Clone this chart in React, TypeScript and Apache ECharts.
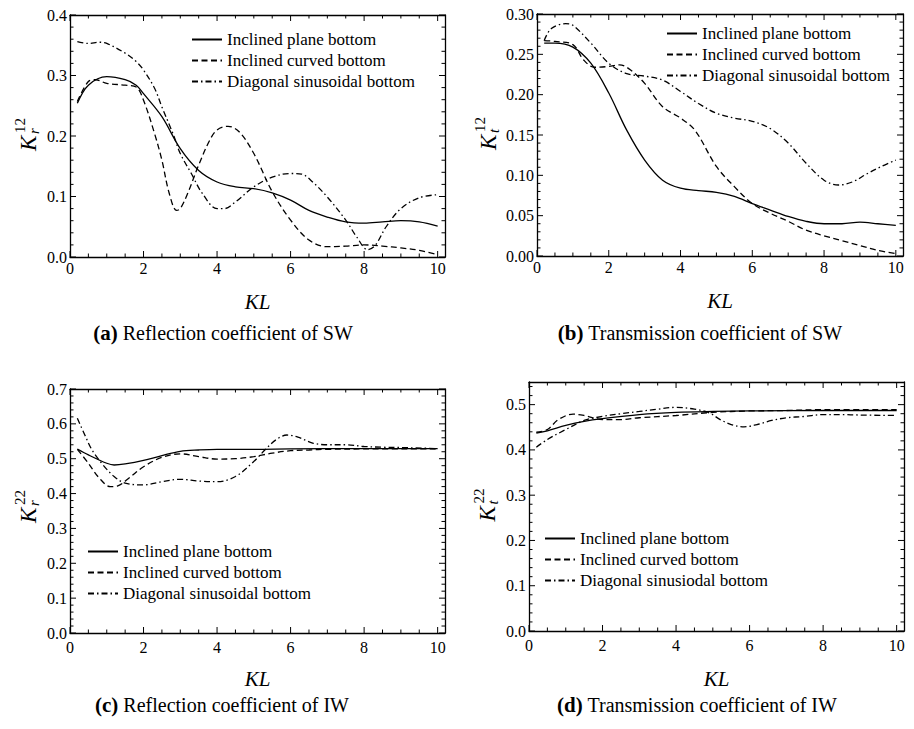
import React, { useEffect, useRef } from "react";
import * as echarts from "echarts";

// ---------- data ----------
const NAME_PLANE = "Inclined plane bottom";
const NAME_CURVED = "Inclined curved bottom";
const NAME_SIN = "Diagonal sinusoidal bottom";
const NAME_SIN_D = "Diagonal sinusiodal bottom";

// (a) Reflection coefficient of SW
const aPlaneX = [0.2, 0.5, 1.0, 1.5, 1.8, 2.0, 2.5, 3.0, 3.5, 4.0, 4.5, 5.0, 5.5, 6.0, 6.5, 7.0, 7.5, 8.0, 8.5, 9.0, 9.5, 10];
const aPlaneY = [0.254, 0.284, 0.298, 0.293, 0.284, 0.27, 0.232, 0.179, 0.143, 0.124, 0.116, 0.113, 0.106, 0.094, 0.077, 0.066, 0.058, 0.056, 0.058, 0.06, 0.058, 0.051];
const aCurvedX = [0.2, 0.5, 0.7, 1.0, 1.5, 1.8, 2.0, 2.3, 2.5, 2.7, 2.9, 3.0, 3.2, 3.5, 3.8, 4.0, 4.3, 4.6, 5.0, 5.5, 6.0, 6.5, 7.0, 7.5, 8.0, 8.5, 9.0, 9.5, 10];
const aCurvedY = [0.257, 0.29, 0.293, 0.287, 0.284, 0.281, 0.259, 0.204, 0.16, 0.105, 0.077, 0.08, 0.105, 0.152, 0.193, 0.21, 0.216, 0.207, 0.171, 0.108, 0.061, 0.028, 0.017, 0.018, 0.02, 0.018, 0.015, 0.011, 0.004];
const aSinX = [0.2, 0.5, 0.8, 1.0, 1.5, 1.8, 2.0, 2.3, 2.5, 2.8, 3.0, 3.3, 3.6, 4.0, 4.2, 4.5, 5.0, 5.5, 6.0, 6.3, 6.6, 7.0, 7.5, 7.8, 8.1, 8.3, 8.6, 9.0, 9.5, 10];
const aSinY = [0.356, 0.353, 0.355, 0.353, 0.337, 0.323, 0.309, 0.279, 0.248, 0.204, 0.171, 0.138, 0.105, 0.08, 0.08, 0.091, 0.116, 0.132, 0.138, 0.137, 0.124, 0.099, 0.061, 0.033, 0.012, 0.019, 0.05, 0.08, 0.098, 0.103];

// (b) Transmission coefficient of SW
const bPlaneX = [0.2, 0.5, 1.0, 1.5, 2.0, 2.5, 3.0, 3.5, 4.0, 4.5, 5.0, 5.5, 6.0, 6.5, 7.0, 7.5, 8.0, 8.5, 9.0, 9.5, 10];
const bPlaneY = [0.264, 0.264, 0.259, 0.239, 0.202, 0.156, 0.119, 0.094, 0.084, 0.081, 0.079, 0.074, 0.065, 0.057, 0.049, 0.043, 0.04, 0.04, 0.042, 0.04, 0.038];
const bCurvedX = [0.2, 0.5, 1.0, 1.3, 1.6, 2.0, 2.3, 2.6, 3.0, 3.5, 4.0, 4.4, 5.0, 5.5, 6.0, 6.5, 7.0, 7.5, 8.0, 8.5, 9.0, 9.5, 10];
const bCurvedY = [0.267, 0.266, 0.262, 0.243, 0.234, 0.235, 0.237, 0.231, 0.214, 0.185, 0.171, 0.156, 0.111, 0.086, 0.065, 0.053, 0.043, 0.032, 0.025, 0.019, 0.013, 0.007, 0.003];
const bSinX = [0.2, 0.4, 0.8, 1.0, 1.5, 2.0, 2.5, 3.0, 3.5, 4.0, 4.5, 5.0, 5.5, 6.0, 6.5, 7.0, 7.5, 8.0, 8.4, 8.8, 9.2, 9.6, 10];
const bSinY = [0.267, 0.282, 0.288, 0.286, 0.264, 0.239, 0.226, 0.223, 0.218, 0.204, 0.189, 0.177, 0.171, 0.167, 0.158, 0.14, 0.115, 0.094, 0.088, 0.092, 0.102, 0.111, 0.119];

// (c) Reflection coefficient of IW
const cPlaneX = [0.2, 0.5, 1.0, 1.2, 1.5, 2.0, 2.5, 3.0, 3.5, 4.0, 5.0, 6.0, 8.0, 10];
const cPlaneY = [0.528, 0.511, 0.487, 0.482, 0.485, 0.495, 0.509, 0.521, 0.525, 0.527, 0.527, 0.528, 0.529, 0.529];
const cCurvedX = [0.2, 0.5, 0.8, 1.1, 1.3, 1.6, 2.0, 2.5, 3.0, 3.5, 4.0, 4.5, 5.0, 5.5, 6.0, 6.5, 7.0, 8.0, 10];
const cCurvedY = [0.527, 0.487, 0.444, 0.42, 0.422, 0.444, 0.477, 0.504, 0.514, 0.506, 0.499, 0.5, 0.506, 0.516, 0.523, 0.525, 0.527, 0.528, 0.528];
const cSinX = [0.2, 0.4, 0.6, 0.9, 1.2, 1.5, 2.0, 2.5, 3.0, 3.5, 4.0, 4.5, 5.0, 5.3, 5.6, 5.9, 6.2, 6.6, 7.0, 7.5, 8.0, 8.5, 9.0, 10];
const cSinY = [0.616, 0.569, 0.525, 0.482, 0.449, 0.43, 0.425, 0.434, 0.441, 0.436, 0.434, 0.449, 0.492, 0.525, 0.554, 0.568, 0.562, 0.545, 0.54, 0.54, 0.535, 0.533, 0.532, 0.529];

// (d) Transmission coefficient of IW
const dPlaneX = [0.2, 0.5, 1.0, 1.5, 2.0, 3.0, 4.0, 5.0, 6.0, 8.0, 10];
const dPlaneY = [0.437, 0.442, 0.454, 0.463, 0.469, 0.478, 0.483, 0.485, 0.486, 0.487, 0.487];
const dCurvedX = [0.2, 0.5, 0.8, 1.2, 1.5, 2.0, 2.5, 3.0, 4.0, 5.0, 6.0, 7.0, 8.0, 10];
const dCurvedY = [0.439, 0.445, 0.467, 0.479, 0.476, 0.467, 0.467, 0.471, 0.476, 0.483, 0.486, 0.487, 0.489, 0.489];
const dSinX = [0.2, 0.5, 1.0, 1.5, 2.0, 2.5, 3.0, 3.5, 4.0, 4.5, 4.9, 5.2, 5.5, 5.85, 6.2, 6.6, 7.0, 7.5, 8.0, 8.5, 9.0, 10];
const dSinY = [0.406, 0.423, 0.445, 0.465, 0.474, 0.48, 0.485, 0.49, 0.494, 0.49, 0.482, 0.467, 0.456, 0.451, 0.456, 0.465, 0.471, 0.474, 0.478, 0.478, 0.477, 0.476];

// ---------- styling ----------
const FONT = '"Liberation Serif", serif';
const XMAX = 10.2;
const X_MAJOR = 2;
const X_MINOR = 0.5;
const SOLID = "solid";
const DASHED = [6, 3.5];
const DASHDOT = [6, 3, 1.5, 3];
const MAJOR_LEN = 6;
const MINOR_LEN = 3.5;

const pairs = (xs: number[], ys: number[]) => xs.map((x, i) => [x, ys[i]]);

// tick positions along an axis (axis decoration, not data)
function tickValues(max: number, step: number): number[] {
  const out: number[] = [];
  const n = Math.floor(max / step + 1e-6);
  for (let i = 0; i <= n; i++) out.push(Math.round(i * step * 10000) / 10000);
  return out;
}

const panels = [
  {
    grid: { left: 70, top: 15, width: 375, height: 242 },
    yMax: 0.4, yMajor: 0.1, yMinor: 0.02, digits: 1,
    series: [
      { name: NAME_PLANE, xs: aPlaneX, ys: aPlaneY, dash: SOLID },
      { name: NAME_CURVED, xs: aCurvedX, ys: aCurvedY, dash: DASHED },
      { name: NAME_SIN, xs: aSinX, ys: aSinY, dash: DASHDOT },
    ],
    legend: { left: 191, top: 31 },
    xMargin: 3, klY: 291,
    ylab: { dx: -42, dy: -2, sub: "r", sup: "12" },
    caption: { tag: "(a)", text: " Reflection coefficient of SW", x: 223, y: 322 },
  },
  {
    grid: { left: 537, top: 14, width: 366, height: 242 },
    yMax: 0.3, yMajor: 0.05, yMinor: 0.01, digits: 2,
    series: [
      { name: NAME_PLANE, xs: bPlaneX, ys: bPlaneY, dash: SOLID },
      { name: NAME_CURVED, xs: bCurvedX, ys: bCurvedY, dash: DASHED },
      { name: NAME_SIN, xs: bSinX, ys: bSinY, dash: DASHDOT },
    ],
    legend: { left: 666, top: 25 },
    xMargin: 3, klY: 290,
    ylab: { dx: -49, dy: -2, sub: "t", sup: "12" },
    caption: { tag: "(b)", text: " Transmission coefficient of SW", x: 700, y: 322 },
  },
  {
    grid: { left: 70, top: 389, width: 375, height: 244 },
    yMax: 0.7, yMajor: 0.1, yMinor: 0.02, digits: 1,
    series: [
      { name: NAME_PLANE, xs: cPlaneX, ys: cPlaneY, dash: SOLID },
      { name: NAME_CURVED, xs: cCurvedX, ys: cCurvedY, dash: DASHED },
      { name: NAME_SIN, xs: cSinX, ys: cSinY, dash: DASHDOT },
    ],
    legend: { left: 87, top: 543 },
    xMargin: 6, klY: 668,
    ylab: { dx: -42, dy: -5, sub: "r", sup: "22" },
    caption: { tag: "(c)", text: " Reflection coefficient of IW", x: 222, y: 694 },
  },
  {
    grid: { left: 529, top: 382, width: 375, height: 249 },
    yMax: 0.55, yMajor: 0.1, yMinor: 0.02, digits: 1,
    series: [
      { name: NAME_PLANE, xs: dPlaneX, ys: dPlaneY, dash: SOLID },
      { name: NAME_CURVED, xs: dCurvedX, ys: dCurvedY, dash: DASHED },
      { name: NAME_SIN_D, xs: dSinX, ys: dSinY, dash: DASHDOT },
    ],
    legend: { left: 544, top: 530 },
    xMargin: 6, klY: 668,
    ylab: { dx: -42, dy: -2, sub: "t", sup: "22" },
    caption: { tag: "(d)", text: " Transmission coefficient of IW", x: 697, y: 694 },
  },
];

const mkLine = () => ({ show: true, onZero: false, lineStyle: { color: "#000", width: 1.3 } });

const mkYFormatter = (digits: number, hideMax: boolean, max: number) => (v: any) => {
  const n = typeof v === "number" ? v : parseFloat(String(v));
  if (!isFinite(n)) return "";
  if (hideMax && Math.abs(n - max) < 1e-9) return "";
  return n.toFixed(digits);
};

function buildOption() {
  const grid: any[] = [];
  const xAxis: any[] = [];
  const yAxis: any[] = [];
  const series: any[] = [];
  const legend: any[] = [];
  const title: any[] = [];

  panels.forEach((p, gi) => {
    grid.push({ ...p.grid, show: false });

    const mainX = xAxis.length;
    xAxis.push({
      gridIndex: gi, type: "value", min: 0, max: XMAX, interval: X_MAJOR, position: "bottom",
      axisLine: mkLine(), axisTick: { show: false }, splitLine: { show: false },
      axisLabel: { show: true, showMaxLabel: false, margin: p.xMargin, fontFamily: FONT, fontSize: 16, color: "#000" },
    });
    xAxis.push({
      gridIndex: gi, type: "value", min: 0, max: XMAX, interval: X_MAJOR, position: "top",
      axisLine: mkLine(), axisTick: { show: false }, splitLine: { show: false },
      axisLabel: { show: false },
    });

    const mainY = yAxis.length;
    const integral = Math.abs(p.yMax / p.yMajor - Math.round(p.yMax / p.yMajor)) < 1e-6;
    yAxis.push({
      gridIndex: gi, type: "value", min: 0, max: p.yMax, interval: p.yMajor, position: "left",
      axisLine: mkLine(), axisTick: { show: false }, splitLine: { show: false },
      axisLabel: {
        show: true, margin: 3, fontFamily: FONT, fontSize: 16, color: "#000",
        formatter: mkYFormatter(p.digits, !integral, p.yMax),
      },
    });
    yAxis.push({
      gridIndex: gi, type: "value", min: 0, max: p.yMax, interval: p.yMajor, position: "right",
      axisLine: mkLine(), axisTick: { show: false }, splitLine: { show: false },
      axisLabel: { show: false },
    });

    p.series.forEach((s) => {
      series.push({
        type: "line", name: s.name,
        xAxisIndex: mainX, yAxisIndex: mainY,
        data: pairs(s.xs, s.ys),
        smooth: 0.35, symbol: "none",
        lineStyle: { color: "#000", width: 1.3, type: s.dash },
        itemStyle: { color: "#000" },
      });
    });

    // frame ticks (inward, on all four sides), positioned through the axes' scales
    const tickData: number[][] = [];
    const xMaj = tickValues(10, X_MAJOR);
    tickValues(10, X_MINOR).forEach((v) => tickData.push([v, 0, xMaj.some((m) => Math.abs(m - v) < 1e-6) ? 0 : 1]));
    const yMaj = tickValues(p.yMax, p.yMajor);
    tickValues(p.yMax, p.yMinor).forEach((v) => tickData.push([0, v, yMaj.some((m) => Math.abs(m - v) < 1e-6) ? 2 : 3]));
    series.push({
      type: "custom", name: "ticks" + gi, xAxisIndex: mainX, yAxisIndex: mainY,
      data: tickData, silent: true, clip: false, z: 3,
      renderItem: (params: any, api: any) => {
        const cs = params.coordSys;
        const kind = api.value(2);
        const st = { stroke: "#000", lineWidth: 1 };
        if (kind <= 1) {
          const len = kind === 0 ? MAJOR_LEN : MINOR_LEN;
          const px = api.coord([api.value(0), 0])[0];
          return {
            type: "group",
            children: [
              { type: "line", shape: { x1: px, y1: cs.y + cs.height, x2: px, y2: cs.y + cs.height - len }, style: st },
              { type: "line", shape: { x1: px, y1: cs.y, x2: px, y2: cs.y + len }, style: st },
            ],
          };
        }
        const len = kind === 2 ? MAJOR_LEN : MINOR_LEN;
        const py = api.coord([0, api.value(1)])[1];
        return {
          type: "group",
          children: [
            { type: "line", shape: { x1: cs.x, y1: py, x2: cs.x + len, y2: py }, style: st },
            { type: "line", shape: { x1: cs.x + cs.width, y1: py, x2: cs.x + cs.width - len, y2: py }, style: st },
          ],
        };
      },
    });

    // y-axis label K with sub/superscript
    const yl = p.ylab;
    const yMid = p.yMax / 2;
    series.push({
      type: "custom", name: "ylabel" + gi, xAxisIndex: mainX, yAxisIndex: mainY,
      data: [[0, yMid]], silent: true, clip: false,
      renderItem: (_params: any, api: any) => {
        const pt = api.coord([0, yMid]);
        return {
          type: "group", x: pt[0] + yl.dx, y: pt[1] + yl.dy, rotation: Math.PI / 2,
          children: [
            { type: "text", x: -17, y: 0, style: { text: "K", font: `italic 23px ${FONT}`, fill: "#000", align: "left", verticalAlign: "middle" } },
            { type: "text", x: 0, y: 6, style: { text: yl.sub, font: `italic 15px ${FONT}`, fill: "#000", align: "left", verticalAlign: "middle" } },
            { type: "text", x: 1, y: -8, style: { text: yl.sup, font: `15px ${FONT}`, fill: "#000", align: "left", verticalAlign: "middle" } },
          ],
        };
      },
    });

    legend.push({
      orient: "vertical", left: p.legend.left, top: p.legend.top,
      padding: 0, itemGap: 4, itemWidth: 30, itemHeight: 14,
      selectedMode: false,
      itemStyle: { opacity: 0 },
      data: p.series.map((s) => s.name),
      textStyle: { fontFamily: FONT, fontSize: 17, color: "#000", lineHeight: 17 },
    });

    title.push({
      text: "KL", left: p.grid.left + p.grid.width / 2, top: p.klY, textAlign: "center", padding: 0,
      textStyle: { fontFamily: FONT, fontStyle: "italic", fontWeight: "normal", fontSize: 21, color: "#000" },
    });
    title.push({
      text: `{b|${p.caption.tag}}{n|${p.caption.text}}`,
      left: p.caption.x, top: p.caption.y, textAlign: "center", padding: 0,
      textStyle: {
        fontFamily: FONT, fontSize: 20, color: "#000", fontWeight: "normal",
        rich: {
          b: { fontFamily: FONT, fontWeight: "bold", fontSize: 21, color: "#000" },
          n: { fontFamily: FONT, fontWeight: "normal", fontSize: 20, color: "#000" },
        },
      },
    });
  });

  return { animation: false, grid, xAxis, yAxis, series, legend, title };
}

export default function App() {
  const ref = useRef<HTMLDivElement>(null);
  useEffect(() => {
    if (!ref.current) return;
    const chart = echarts.init(ref.current, undefined, { renderer: "svg" });
    chart.setOption(buildOption() as any);
    return () => chart.dispose();
  }, []);
  return (
    <div
      ref={ref}
      style={{ position: "fixed", left: 0, top: 0, width: 914, height: 729, background: "#fff" }}
    />
  );
}
